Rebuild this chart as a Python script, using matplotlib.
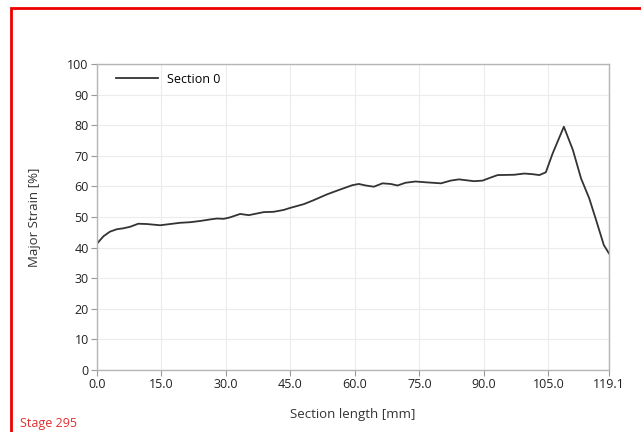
import matplotlib
matplotlib.use("Agg")
import matplotlib.pyplot as plt
from matplotlib.patches import Rectangle

section_length = [0.0, 1.5, 3.0, 4.6, 6.1, 7.7, 9.6, 11.6, 14.7, 17.0, 19.3, 21.7, 24.0, 26.3,
                  27.9, 29.5, 31.0, 33.3, 35.3, 38.8, 41.1, 43.4, 45.0, 48.1, 50.4, 53.5, 56.6,
                  59.4, 60.9, 62.5, 64.4, 66.4, 68.3, 69.9, 71.8, 74.1, 76.9, 80.0, 82.3, 84.2,
                  87.7, 89.7, 91.6, 93.2, 97.0, 99.4, 101.3, 102.9, 104.4, 106.0, 108.6, 110.7,
                  112.6, 114.5, 116.1, 117.9, 119.1]
major_strain = [41.3, 43.7, 45.2, 46.0, 46.3, 46.8, 47.8, 47.7, 47.3, 47.7, 48.1, 48.3, 48.7, 49.2,
                49.5, 49.4, 49.9, 51.0, 50.6, 51.6, 51.7, 52.3, 53.0, 54.2, 55.5, 57.4, 59.0,
                60.4, 60.8, 60.3, 59.9, 61.0, 60.8, 60.3, 61.2, 61.6, 61.3, 61.0, 61.9, 62.3,
                61.7, 61.9, 62.9, 63.7, 63.8, 64.2, 64.0, 63.7, 64.6, 70.8, 79.5, 71.9,
                62.6, 56.1, 49.0, 40.8, 38.1]
series_name = "Section 0"
x_ticks = [0.0, 15.0, 30.0, 45.0, 60.0, 75.0, 90.0, 105.0, 119.1]
y_ticks = [0, 10, 20, 30, 40, 50, 60, 70, 80, 90, 100]

plt.rcParams['font.family'] = ['Open Sans', 'DejaVu Sans']

fig = plt.figure(figsize=(6.41, 4.32), dpi=100)
fig.patch.set_facecolor('white')
ax = fig.add_axes([97/641, 1 - 370/432, 512/641, 306/432])

ax.plot(section_length, major_strain, color='#333333', lw=1.3, label=series_name)

ax.set_xlim(0, 119.1)
ax.set_ylim(0, 100)
ax.set_xticks(x_ticks)
ax.set_xticklabels([f"{v:.1f}" for v in x_ticks])
ax.set_yticks(y_ticks)
ax.grid(True, color='#ececec', lw=0.8)
ax.set_axisbelow(True)
for s in ax.spines.values():
    s.set_color('#b5b5b5')
    s.set_linewidth(1.0)
ax.tick_params(axis='both', colors='#999999', labelcolor='#222222', labelsize=9,
               length=4, width=0.8, pad=2)

ax.set_xlabel("Section length [mm]", fontsize=9.5, color='#333333', labelpad=12)
ax.set_ylabel("Major Strain [%]", fontsize=9.5, color='#333333', labelpad=19)

leg = ax.legend(loc='upper left', bbox_to_anchor=(0.02, 1.0), frameon=False, fontsize=9,
                handlelength=3.4, borderaxespad=0.3, handletextpad=0.7)

fig.patches.append(Rectangle((11/641, -0.05), 1.1, 1 - 8/432 + 0.05, transform=fig.transFigure,
                             fill=False, edgecolor='#ee0000', lw=2, zorder=10))
fig.text(20/641, 1 - 424/432, "Stage 295", color='#e03030', fontsize=9, va='center', ha='left')

fig.savefig("out.png", dpi=100)
